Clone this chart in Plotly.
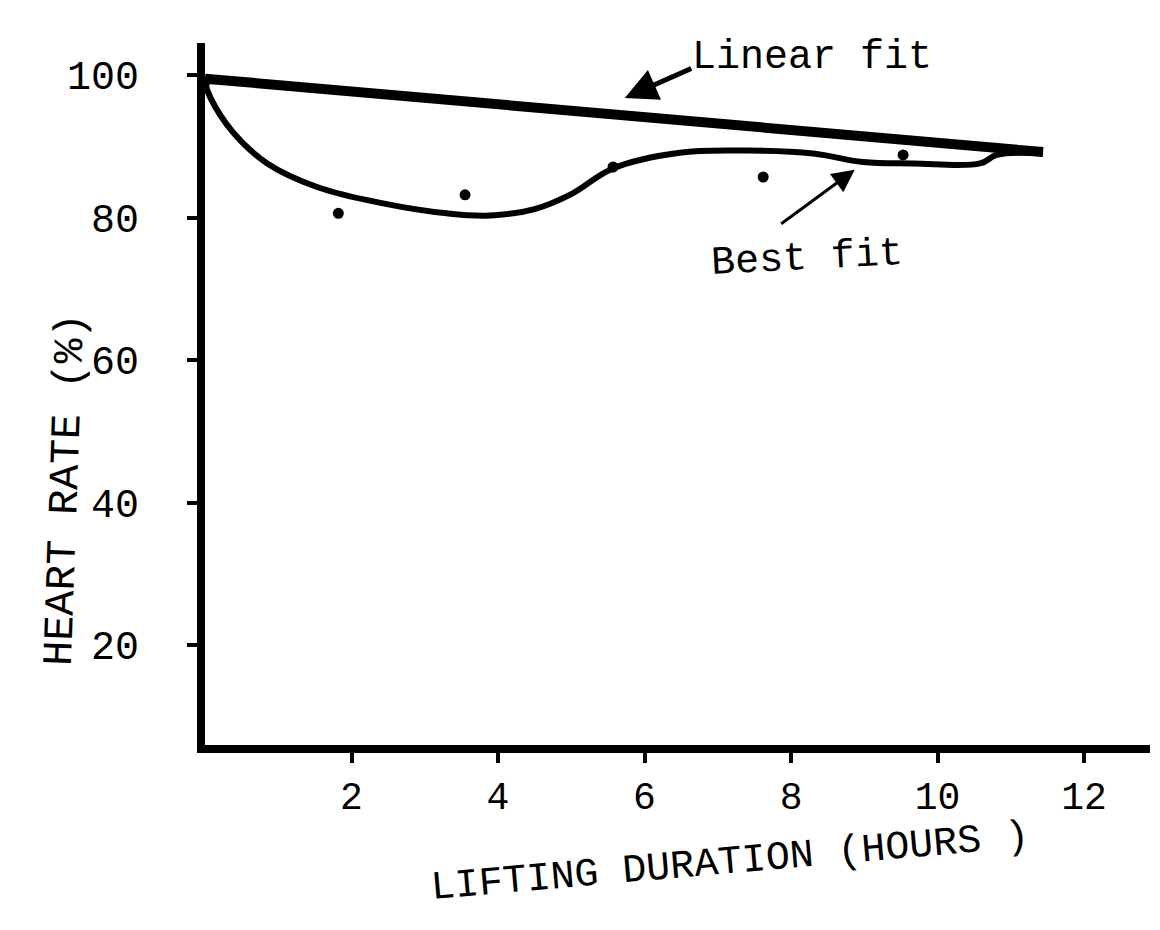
import plotly.graph_objects as go

# ---- data ----
point_hours = [0.0, 1.82, 3.55, 5.57, 7.62, 9.53]
point_rate = [99.0, 80.6, 83.2, 87.1, 85.7, 88.8]

best_fit_hours = [0.0, 0.07, 0.38, 0.85, 1.53, 2.43, 3.30, 3.9, 4.5, 5.0, 5.57,
                  6.48, 7.4, 8.30, 8.98, 9.66, 10.58, 10.81, 11.44]
best_fit_rate = [99.0, 96.9, 92.0, 87.6, 84.3, 82.0, 80.6, 80.3, 81.2, 83.3, 86.9,
                 89.1, 89.4, 89.0, 87.8, 87.6, 87.6, 88.8, 89.0]

linear_fit_hours = [0.0, 11.44]
linear_fit_rate = [99.5, 89.2]

x_ticks = [2, 4, 6, 8, 10, 12]
y_ticks = [20, 40, 60, 80, 100]

FONT = "Liberation Mono, Courier New, monospace"

fig = go.Figure()
fig.add_trace(go.Scatter(x=linear_fit_hours, y=linear_fit_rate, mode="lines",
                         line=dict(color="black", width=10), hoverinfo="skip"))
fig.add_trace(go.Scatter(x=best_fit_hours, y=best_fit_rate, mode="lines",
                         line=dict(color="black", width=6, shape="spline", smoothing=1.1),
                         hoverinfo="skip"))
fig.add_trace(go.Scatter(x=point_hours, y=point_rate, mode="markers",
                         marker=dict(color="black", size=11)))

fig.update_layout(
    width=1160, height=930,
    margin=dict(l=205, r=10, t=43, b=185),
    paper_bgcolor="white", plot_bgcolor="white",
    showlegend=False,
    font=dict(family=FONT, size=40, color="black"),
    xaxis=dict(range=[0, 12.9], tickvals=x_ticks, ticktext=[str(v) for v in x_ticks],
               showline=True, linecolor="black", linewidth=8,
               ticks="outside", ticklen=10, tickwidth=4, tickcolor="black",
               showgrid=False, zeroline=False, ticklabelstandoff=0,
               tickfont=dict(size=38, family=FONT)),
    yaxis=dict(range=[6, 104.5], tickvals=y_ticks, ticktext=[str(v) for v in y_ticks],
               showline=True, linecolor="black", linewidth=8,
               ticks="outside", ticklen=10, tickwidth=4, tickcolor="black",
               showgrid=False, zeroline=False, ticklabelstandoff=40,
               tickfont=dict(size=40, family=FONT)),
)

# axis titles as rotated text
fig.add_annotation(text="LIFTING DURATION (HOURS )", xref="paper", yref="paper",
                   x=(730 - 205) / 945, y=-(862 - 745) / 702, showarrow=False,
                   xanchor="center", yanchor="middle",
                   textangle=-5, font=dict(size=40, family=FONT))
fig.add_annotation(text="HEART RATE (%)", xref="paper", yref="paper",
                   x=-(205 - 66) / 945, y=(745 - 490) / 702, showarrow=False,
                   xanchor="center", yanchor="middle",
                   textangle=-88, font=dict(size=42, family=FONT))

# labels with arrows
fig.add_annotation(x=5.73, y=96.8, xref="x", yref="y", text="", showarrow=True,
                   ax=68, ay=-30, arrowhead=2, arrowsize=1.3, arrowwidth=5, arrowcolor="black")
fig.add_annotation(text="Linear fit", xref="x", yref="y", x=(690 - 205) / 73.26, y=(787.5 - 57) / 7.125,
                   xanchor="left", yanchor="middle", showarrow=False, font=dict(size=40, family=FONT))
fig.add_annotation(x=8.87, y=86.7, xref="x", yref="y", text="", showarrow=True,
                   ax=-75, ay=55, arrowhead=2, arrowsize=1.5, arrowwidth=3, arrowcolor="black")
fig.add_annotation(text="Best fit", xref="x", yref="y", x=(708 - 205) / 73.26, y=(787.5 - 258) / 7.125,
                   xanchor="left", yanchor="middle", showarrow=False, textangle=-3,
                   font=dict(size=40, family=FONT))

fig.write_html("out.html")
